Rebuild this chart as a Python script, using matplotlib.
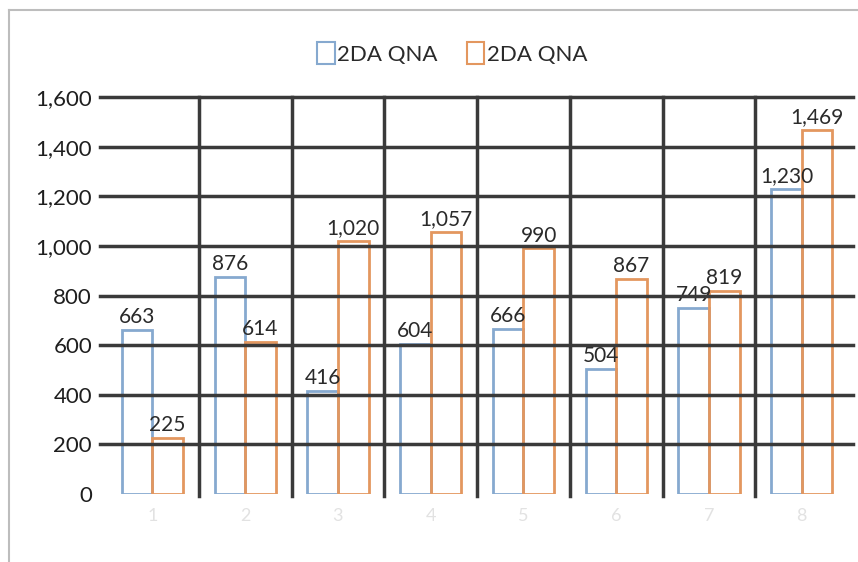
import numpy as np
import matplotlib.pyplot as plt
from matplotlib.patches import Patch
from matplotlib.lines import Line2D

plt.rcParams['font.family'] = ['Lato', 'DejaVu Sans']

categories = ['1', '2', '3', '4', '5', '6', '7', '8']
series_a = [663, 876, 416, 604, 666, 504, 749, 1230]
series_b = [225, 614, 1020, 1057, 990, 867, 819, 1469]
series_names = ['2DA QNA', '2DA QNA']
yticks = [0, 200, 400, 600, 800, 1000, 1200, 1400, 1600]

blue = '#86a9cf'
orange = '#e3975f'
grid = '#3a3a3a'

fig = plt.figure(figsize=(8.58, 5.62), dpi=100)
ax = fig.add_axes([0.1235, 0.121, 0.865, 0.706])

x = np.arange(1, len(categories) + 1)
w = 0.33
b1 = ax.bar(x - w / 2, series_a, w, facecolor='none', edgecolor=blue, linewidth=2, zorder=2)
b2 = ax.bar(x + w / 2, series_b, w, facecolor='none', edgecolor=orange, linewidth=2, zorder=2)
ax.bar_label(b1, labels=[f'{v:,}' for v in series_a], padding=2, fontsize=15, color='#2a2a2a')
ax.bar_label(b2, labels=[f'{v:,}' for v in series_b], padding=2, fontsize=15, color='#2a2a2a')

ax.set_xlim(0.5, len(categories) + 0.5)
ax.set_ylim(0, 1600)
ax.set_yticks(yticks)
ax.set_yticklabels([f'{v:,}' for v in yticks], fontsize=16, color='#1e1e1e')
ax.set_xticks(x)
ax.set_xticklabels(categories, fontsize=13, color='#e2e2e2')
ax.tick_params(length=0, pad=10)
ax.tick_params(axis='y', pad=10)

# dark grid drawn over the bars
for v in yticks[1:]:
    ax.plot([0.44, 8.55], [v, v], color=grid, linewidth=2.5, zorder=3, clip_on=False)
for xv in x[:-1] + 0.5:
    ax.plot([xv, xv], [-10, 1600], color=grid, linewidth=2.5, zorder=3, clip_on=False)

for s in ax.spines.values():
    s.set_visible(False)

handles = [Patch(facecolor='none', edgecolor=blue, linewidth=1.5),
           Patch(facecolor='none', edgecolor=orange, linewidth=1.5)]
fig.legend(handles, series_names, loc='center', bbox_to_anchor=(0.527, 0.905), ncol=2,
           frameon=False, fontsize=16, handlelength=0.8, handleheight=1.1,
           handletextpad=0.1, columnspacing=1.3, labelcolor='#2a2a2a')

# chart area border (top and left edges visible)
fig.add_artist(Line2D([0.011, 1.0], [0.983, 0.983], color='#bdbdbd', linewidth=1.5))
fig.add_artist(Line2D([0.011, 0.011], [0.0, 0.983], color='#bdbdbd', linewidth=1.5))

fig.savefig('out.png', dpi=100)
